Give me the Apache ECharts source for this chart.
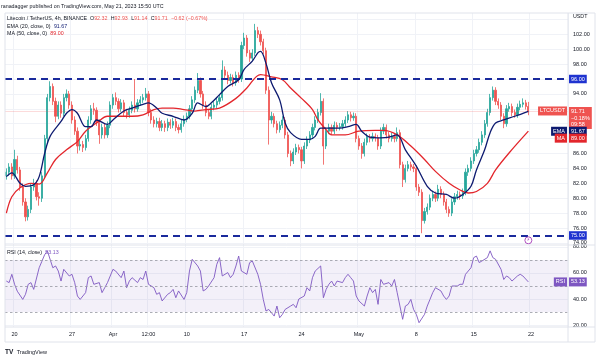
<!DOCTYPE html>
<html><head><meta charset="utf-8">
<script src="https://cdn.jsdelivr.net/npm/echarts@6/dist/echarts.min.js"></script>
<style>html,body{margin:0;padding:0;background:#fff}#c{width:600px;height:358px}</style>
</head><body><div id="c"></div>
<script>
// ---- data (8h candles) ----
const opens = [83.0,83.5,84.2,83.0,85.2,83.8,81.5,79.5,77.5,78.5,
81.5,82.0,80.2,80.0,83.0,88.0,93.5,95.0,93.0,91.0,
92.5,91.4,93.5,94.0,92.5,90.5,89.0,87.0,87.2,86.8,
88.0,90.5,92.0,91.8,90.2,88.5,89.5,88.5,89.8,92.5,
93.5,93.0,92.0,92.8,91.5,91.2,91.8,92.5,92.0,92.8,
93.2,93.5,94.0,91.5,90.5,90.0,90.3,89.5,90.0,89.5,
90.2,89.8,90.3,89.5,89.2,90.0,90.6,91.0,92.0,93.2,
94.5,95.8,94.0,92.5,91.5,91.0,92.2,92.5,93.0,93.5,
97.2,96.5,95.8,96.2,95.5,96.5,96.0,100.5,101.5,99.5,
98.8,99.5,102.5,102.0,101.0,99.8,94.5,90.5,91.0,90.0,
89.2,89.8,90.5,88.5,86.0,85.0,86.2,86.8,86.5,85.0,
87.0,87.8,88.5,89.5,90.5,91.5,93.0,87.0,89.0,89.5,
89.0,89.8,89.5,89.6,90.0,90.5,91.2,90.8,91.0,88.0,
87.0,86.0,87.5,88.2,88.0,88.3,88.1,87.0,89.0,89.5,
88.5,88.0,88.3,88.0,88.8,84.5,82.5,84.0,84.5,84.2,
84.0,81.5,80.8,77.0,78.2,78.8,80.0,80.5,80.0,81.2,
80.5,79.5,78.5,78.0,79.5,80.2,80.5,80.3,80.8,83.5,
84.0,85.0,86.0,86.5,87.5,88.5,90.0,91.5,93.5,94.5,
93.0,92.5,91.0,90.0,92.0,92.3,91.5,91.2,92.2,92.6,
92.8,92.32];
const closes = [83.5,84.2,83.0,85.2,83.8,81.5,79.5,77.5,78.5,81.5,
82.0,80.2,80.0,83.0,88.0,93.5,95.0,93.0,91.0,92.5,
91.4,93.5,94.0,92.5,90.5,89.0,87.0,87.2,86.8,88.0,
90.5,92.0,91.8,90.2,88.5,89.5,88.5,89.8,92.5,93.5,
93.0,92.0,92.8,91.5,91.2,91.8,92.5,92.0,92.8,93.2,
93.5,94.0,91.5,90.5,90.0,90.3,89.5,90.0,89.5,90.2,
89.8,90.3,89.5,89.2,90.0,90.6,91.0,92.0,93.2,94.5,
95.8,94.0,92.5,91.5,91.0,92.2,92.5,93.0,93.5,97.2,
96.5,95.8,96.2,95.5,96.5,96.0,100.5,101.5,99.5,98.8,
99.5,102.5,102.0,101.0,99.8,94.5,90.5,91.0,90.0,89.2,
89.8,90.5,88.5,86.0,85.0,86.2,86.8,86.5,85.0,87.0,
87.8,88.5,89.5,90.5,91.5,93.0,87.0,89.0,89.5,89.0,
89.8,89.5,89.6,90.0,90.5,91.2,90.8,91.0,88.0,87.0,
86.0,87.5,88.2,88.0,88.3,88.1,87.0,89.0,89.5,88.5,
88.0,88.3,88.0,88.8,84.5,82.5,84.0,84.5,84.2,84.0,
81.5,80.8,77.0,78.2,78.8,80.0,80.5,80.0,81.2,80.5,
79.5,78.5,78.0,79.5,80.2,80.5,80.3,80.8,83.5,84.0,
85.0,86.0,86.5,87.5,88.5,90.0,91.5,93.5,94.5,93.0,
92.5,91.0,90.0,92.0,92.3,91.5,91.2,92.2,92.6,92.8,
92.32,91.71];
const highs = [84.0,84.7,84.7,86.5,85.7,84.2,82.0,80.0,79.0,82.0,
82.6,82.4,80.8,83.5,88.5,94.0,95.7,95.4,93.5,93.0,
93.0,94.0,94.6,94.4,93.0,91.0,89.5,87.8,87.7,88.5,
91.0,92.5,92.8,92.2,90.6,90.0,90.0,90.3,93.0,94.0,
94.2,93.4,93.3,93.2,92.0,92.3,93.0,96.0,93.3,93.7,
94.0,94.8,94.4,92.0,91.0,90.8,90.8,90.5,90.4,90.7,
90.6,90.8,90.7,89.9,90.5,91.1,91.5,92.5,93.7,95.0,
96.8,96.2,94.4,93.0,91.9,92.7,93.0,93.5,94.0,98.5,
97.7,97.0,96.7,96.6,97.0,96.9,101.0,102.2,101.9,99.9,
100.0,103.4,103.0,102.5,101.4,100.2,95.0,91.6,91.4,90.4,
90.3,91.0,90.9,88.9,86.4,86.7,87.3,87.2,86.9,87.5,
88.3,89.0,90.0,91.0,92.0,94.1,93.4,89.5,90.0,89.9,
90.3,90.2,90.1,90.5,91.0,91.7,91.6,91.5,91.4,88.4,
87.4,88.0,88.7,88.6,88.8,88.7,88.5,89.5,90.0,89.9,
88.9,88.8,88.7,89.5,89.2,84.9,84.5,85.0,84.9,84.6,
84.4,81.9,81.2,78.7,79.3,80.5,81.0,80.9,81.8,81.6,
80.9,79.9,78.9,80.0,80.7,81.0,80.9,81.3,84.0,84.5,
85.5,86.5,87.0,88.0,89.0,90.5,92.0,94.0,95.0,94.9,
93.4,92.9,91.4,92.5,92.8,92.7,91.9,92.7,93.1,93.4,
93.2,92.93];
const lows = [82.5,83.0,82.5,82.6,83.3,81.0,79.0,76.9,77.0,78.0,
81.0,79.7,79.0,79.5,82.6,87.5,93.0,92.5,90.2,90.6,
90.8,91.0,93.0,92.0,90.0,88.5,86.0,86.4,86.2,86.4,
87.6,90.0,91.2,89.7,87.3,88.0,88.0,88.1,89.4,92.0,
92.5,91.5,91.6,91.0,90.7,90.8,91.4,91.5,91.6,92.4,
92.8,93.1,91.0,90.0,89.5,89.5,89.0,89.0,88.9,89.0,
89.3,89.4,89.0,88.7,88.8,89.6,90.2,90.6,91.6,92.8,
94.1,93.5,92.0,91.0,90.6,90.6,91.8,92.1,92.6,93.1,
96.0,95.3,95.4,95.0,95.1,95.5,95.6,100.0,99.0,98.3,
98.4,99.1,101.5,100.5,99.3,94.0,87.2,90.0,89.5,88.7,
88.8,89.4,88.0,85.5,84.3,84.6,85.8,86.0,84.0,84.6,
86.6,87.4,88.1,89.1,90.1,91.1,84.5,86.6,88.6,88.5,
88.6,89.0,89.1,89.2,89.6,90.1,90.3,90.4,87.5,86.5,
85.3,85.6,87.1,87.5,87.6,87.6,86.5,86.6,88.6,88.0,
87.5,87.6,87.5,87.6,84.0,81.5,82.1,83.6,83.7,83.5,
81.0,80.3,75.3,76.6,77.8,78.4,79.6,79.5,79.6,80.0,
79.0,78.0,77.5,77.6,79.1,79.8,79.8,79.9,80.4,83.0,
83.6,84.6,85.6,86.1,87.1,88.1,89.6,91.1,93.1,92.5,
92.0,90.5,89.4,89.6,91.6,91.0,90.8,90.8,91.8,92.2,
91.9,91.14];
// EMA(20) and MA(50) traced as [candle index, value]
const ema20 = [[0,82.9],[2,83.4],[5,82.0],[7,81.6],[10,81.8],[12,82.9],[14,86.0],[16,88.3],[20,90.3],[22,91.4],[24,91.9],[26,91.4],[29,89.6],[31,89.6],[33,90.5],[37,89.9],[39,90.5],[43,91.7],[46,92.1],[50,92.6],[52,92.8],[55,92.1],[57,91.4],[61,91.0],[65,90.5],[68,91.4],[70,92.8],[73,92.3],[75,92.8],[78,93.9],[81,95.0],[85,95.9],[87,97.3],[90,98.4],[92,99.5],[93,99.7],[95,98.1],[97,95.5],[100,93.2],[102,90.1],[104,88.8],[108,87.9],[111,87.9],[113,88.3],[115,89.4],[118,89.4],[122,89.4],[125,89.6],[128,89.9],[130,89.0],[133,88.2],[137,88.1],[140,88.2],[143,88.5],[146,86.5],[150,84.3],[154,81.6],[157,80.7],[161,80.5],[164,80.0],[167,80.5],[170,81.6],[172,83.8],[175,86.5],[177,88.8],[179,90.1],[182,90.5],[186,91.0],[191,91.67]];
const ma50 = [[0,78.0],[2,80.2],[5,81.4],[9,82.0],[12,81.9],[15,83.4],[18,85.2],[22,86.5],[26,87.6],[29,89.0],[33,90.1],[37,91.0],[42,91.0],[46,91.0],[50,91.2],[54,91.9],[57,92.1],[61,92.1],[65,91.9],[69,91.7],[73,91.9],[78,92.1],[84,93.4],[88,94.8],[93,96.6],[97,96.3],[101,95.9],[104,94.8],[108,93.4],[112,91.9],[114,90.5],[117,89.2],[119,88.5],[124,88.5],[129,89.0],[135,89.1],[138,89.1],[143,88.5],[148,87.0],[153,85.2],[157,83.6],[162,82.0],[166,81.1],[169,80.7],[172,80.9],[176,82.0],[179,83.8],[184,86.1],[191,89.0]];
const rsi14 = [[0,53.8],[1,52.6],[2,59],[3,51.3],[4,46],[6,39.7],[7,43.6],[8,51.3],[9,52.6],[10,47.4],[12,64],[13,69],[14,74],[15,77],[17,64],[18,65.4],[19,61.5],[20,53.8],[21,62.8],[23,57.7],[24,59],[25,52.6],[26,42.3],[27,39.7],[29,44.9],[30,56.4],[31,57.7],[32,51.3],[34,52.6],[35,44.9],[36,48.7],[37,52.6],[39,62.8],[40,61.5],[42,56.4],[43,61.5],[44,48.7],[45,53.8],[46,56.4],[48,52.6],[49,56.4],[50,55],[51,61.5],[52,51.3],[54,48.7],[55,43.6],[56,44.9],[57,38.5],[59,43.6],[60,44.9],[61,47.4],[62,41],[63,46.2],[65,39.7],[66,44.9],[67,61.5],[68,70.5],[70,65.4],[71,61.5],[72,46.2],[73,47.4],[74,50],[76,56.4],[77,66.7],[78,71.8],[79,57.7],[81,60.3],[82,56.4],[83,59],[84,65.4],[85,73],[86,61.5],[88,59],[89,67.9],[90,69.2],[92,59],[93,51.3],[94,39.7],[95,30.8],[96,32],[98,26.9],[99,34.6],[100,25.6],[101,28.2],[102,32],[104,34.6],[105,35.9],[106,33.3],[107,40],[109,42.3],[110,48.7],[111,46.2],[112,56.4],[113,61.5],[115,65.4],[116,41],[117,47.4],[118,51.3],[119,53.8],[120,50],[121,53.8],[123,52.6],[124,56.4],[125,59],[126,56.4],[127,53.8],[128,42.3],[129,38.5],[131,34.6],[132,42.3],[133,48.7],[134,44.9],[135,47.4],[136,35.9],[137,55],[138,51.3],[140,52.6],[141,50],[142,55],[143,44.9],[145,24.4],[146,34.6],[147,35.9],[148,39.7],[149,32],[150,28.2],[151,21.8],[153,28.2],[154,34.6],[155,39.7],[156,44.9],[157,48.7],[159,46.2],[160,42.3],[161,39.7],[162,42.3],[163,50],[165,50],[166,51.3],[167,51.3],[168,59],[170,64],[171,71.8],[172,73],[173,68],[174,69.2],[176,71.8],[177,77],[178,71.8],[179,70.5],[181,62.8],[182,55],[183,57.7],[184,56.4],[185,53.8],[187,57.7],[188,59],[189,57.7],[191,53.13]];
const levels = [96, 75];
const priceTicks = [74,76,78,80,82,84,86,88,90,92,94,96,98,100,102,104];
const priceLabels = [74,76,78,80,82,84,86,94,98,100,102];
const rsiTicks = [20,40,60,80];
const rsiBand = [30, 70];
const rsiMid = 50;
const tickLabels = [['2023-03-20 00h','20'],['2023-03-27 00h','27'],['2023-04-01 00h','Apr'],['2023-04-05 08h','12:00'],['2023-04-10 00h','10'],['2023-04-17 00h','17'],['2023-04-24 00h','24'],['2023-05-01 00h','May'],['2023-05-08 00h','8'],['2023-05-15 00h','15'],['2023-05-22 00h','22']];
const headerChange = '\u22120.62 (\u22120.67%)';
const lastChange = '\u22120.18%';
const countdown = '09:58';

// ---- time categories (8h slots, with empty slots to the right) ----
const SLOT = 8 * 3600 * 1000, START = Date.UTC(2023, 2, 19, 0), TOTAL = 206;
const pad = n => String(n).padStart(2, '0');
const categories = [];
for (let i = 0; i < TOTAL; i++) {
  const d = new Date(START + i * SLOT);
  categories.push(d.getUTCFullYear() + '-' + pad(d.getUTCMonth() + 1) + '-' + pad(d.getUTCDate()) + ' ' + pad(d.getUTCHours()) + 'h');
}
const tickMap = new Map(tickLabels);
const candles = closes.map((c, i) => [opens[i], c, lows[i], highs[i]]);
const last = closes.length - 1;

const FONT = 'Liberation Sans, Arial, sans-serif';
const TXT = '#131722', GRIDC = '#f0f2f7', BORDER = '#e0e3eb';
const UP = '#26a69a', DOWN = '#ef5350';
const EMAC = '#0d1a70', MAC = '#e3262c', RSIC = '#7e57c2', LVL = '#1a2a9c', LVLBOX = '#1f33d0';
const GL = 5, GR = 32, PT = 13, PH = 232, RT = 245, RH = 82;

const chart = echarts.init(document.getElementById('c'), null, {renderer: 'canvas'});
const xBase = {
  type: 'category', data: categories, boundaryGap: true,
  axisLine: {show: false}, axisTick: {show: false},
  splitLine: {show: true, interval: (i, v) => tickMap.has(v), lineStyle: {color: GRIDC, width: 1}}
};
const option = {
  animation: false,
  backgroundColor: '#fff',
  grid: [
    {left: GL, right: GR, top: PT, height: PH},
    {left: GL, right: GR, top: RT, height: RH}
  ],
  xAxis: [
    Object.assign({}, xBase, {gridIndex: 0, axisLabel: {show: false}}),
    Object.assign({}, xBase, {gridIndex: 1, axisLabel: {show: true, interval: (i, v) => tickMap.has(v), formatter: v => tickMap.get(v) || '', color: TXT, fontSize: 5.5, fontFamily: FONT, margin: 4}})
  ],
  yAxis: [
    {gridIndex: 0, type: 'value', position: 'right', min: 73.72, max: 104.86, scale: true,
      axisLine: {show: false}, axisTick: {show: false, customValues: priceTicks},
      axisLabel: {customValues: priceLabels, formatter: v => v.toFixed(2), color: TXT, fontSize: 5.5, fontFamily: FONT, margin: 5, align: 'left'},
      splitLine: {show: true, lineStyle: {color: GRIDC}}},
    {gridIndex: 1, type: 'value', position: 'right', min: 18.5, max: 81.5,
      axisLine: {show: false}, axisTick: {show: false, customValues: rsiTicks},
      axisLabel: {customValues: rsiTicks, formatter: v => v.toFixed(2), color: TXT, fontSize: 5.5, fontFamily: FONT, margin: 5, align: 'left'},
      splitLine: {show: true, lineStyle: {color: GRIDC}}}
  ],
  series: [
    {type: 'candlestick', name: 'LTCUSDT', xAxisIndex: 0, yAxisIndex: 0, data: candles, barWidth: '62%',
      itemStyle: {color: UP, color0: DOWN, borderColor: UP, borderColor0: DOWN, borderWidth: 0.8},
      markLine: {silent: true, symbol: 'none', animation: false,
        data: [
          ...levels.map(v => ({yAxis: v, lineStyle: {color: LVL, type: [7, 5], width: 1.8},
            label: {show: true, position: 'end', distance: 1, formatter: v.toFixed(2), color: '#fff', backgroundColor: LVLBOX, padding: [1.5, 2, 1, 2], fontSize: 5.5, fontFamily: FONT}})),
          {yAxis: closes[last], lineStyle: {color: DOWN, type: 'solid', width: 0.6, opacity: 0.35}, label: {show: false}}
        ]},
      markPoint: {silent: true, animation: false, data: [{coord: [last, 74.35], symbol: 'circle', symbolSize: 7,
        itemStyle: {color: '#fff', borderColor: '#9c27b0', borderWidth: 0.8},
        label: {show: true, formatter: '\u26A1', color: '#9c27b0', fontSize: 4.5, fontFamily: 'DejaVu Sans'}}]}
    },
    {type: 'line', name: 'EMA', xAxisIndex: 0, yAxisIndex: 0, data: ema20, smooth: 0.35, symbol: 'none', lineStyle: {color: EMAC, width: 1.3}, z: 5},
    {type: 'line', name: 'MA', xAxisIndex: 0, yAxisIndex: 0, data: ma50, smooth: 0.35, symbol: 'none', lineStyle: {color: MAC, width: 1.3}, z: 4},
    {type: 'line', name: 'RSI', xAxisIndex: 1, yAxisIndex: 1, data: rsi14, symbol: 'none', lineStyle: {color: RSIC, width: 0.9},
      markArea: {silent: true, itemStyle: {color: 'rgba(126,87,194,0.09)'}, data: [[{yAxis: rsiBand[0]}, {yAxis: rsiBand[1]}]]},
      markLine: {silent: true, symbol: 'none', label: {show: false}, lineStyle: {color: '#9598a1', type: [2.5, 2.5], width: 0.8},
        data: [{yAxis: rsiBand[1]}, {yAxis: rsiMid}, {yAxis: rsiBand[0]}]}}
  ]
};
chart.setOption(option);

// ---- text, frame and price-scale tags ----
const yP = v => chart.convertToPixel({yAxisIndex: 0}, v);
const yR = v => chart.convertToPixel({yAxisIndex: 1}, v);
const AX = 600 - GR;
const f = s => s + 'px ' + FONT;
function tag(x, y, text, bg, align, vAlign) {
  return {type: 'text', x: x, y: y, z: 200, silent: true,
    style: {text: text, fill: '#fff', backgroundColor: bg, padding: [1.5, 2, 1, 2], font: f(5.5), align: align || 'left', verticalAlign: vAlign || 'middle', lineHeight: 6.5}};
}
const lastEma = ema20[ema20.length - 1][1], lastMa = ma50[ma50.length - 1][1], lastRsi = rsi14[rsi14.length - 1][1];
const yLast = yP(closes[last]);
const graphics = [
  {type: 'rect', z: 150, silent: true, shape: {x: GL, y: PT, width: 600 - GL - 5, height: 329}, style: {fill: 'none', stroke: BORDER, lineWidth: 1}},
  {type: 'line', z: 150, silent: true, shape: {x1: GL, y1: RT, x2: 595, y2: RT}, style: {stroke: BORDER, lineWidth: 1}},
  {type: 'line', z: 150, silent: true, shape: {x1: GL, y1: RT + RH, x2: 595, y2: RT + RH}, style: {stroke: BORDER, lineWidth: 1}},
  {type: 'line', z: 150, silent: true, shape: {x1: AX, y1: PT, x2: AX, y2: 342}, style: {stroke: BORDER, lineWidth: 1}},
  {type: 'text', x: 1, y: 6.5, z: 200, style: {text: 'ranadagger published on TradingView.com, May 21, 2023 15:50 UTC', fill: TXT, font: f(5.3), verticalAlign: 'middle'}},
  {type: 'text', x: 7, y: 19, z: 200, style: {
    text: '{t|Litecoin / TetherUS, 4h, BINANCE  }{t|O}{r|' + opens[last].toFixed(2) + '} {t|H}{r|' + highs[last].toFixed(2) + '} {t|L}{r|' + lows[last].toFixed(2) + '} {t|C}{r|' + closes[last].toFixed(2) + '} {r|' + headerChange + '}',
    verticalAlign: 'middle', rich: {t: {fill: TXT, font: f(5.3)}, r: {fill: DOWN, font: f(5.3)}}}},
  {type: 'text', x: 7, y: 26.5, z: 200, style: {text: '{t|EMA (20, close, 0)} {b|' + lastEma.toFixed(2) + '}', verticalAlign: 'middle', rich: {t: {fill: TXT, font: f(5.3)}, b: {fill: EMAC, font: f(5.3)}}}},
  {type: 'text', x: 7, y: 33.5, z: 200, style: {text: '{t|MA (50, close, 0)} {b|' + lastMa.toFixed(2) + '}', verticalAlign: 'middle', rich: {t: {fill: TXT, font: f(5.3)}, b: {fill: MAC, font: f(5.3)}}}},
  {type: 'text', x: 7, y: 252.5, z: 200, style: {text: '{t|RSI (14, close)} {b|' + lastRsi.toFixed(2) + '}', verticalAlign: 'middle', rich: {t: {fill: TXT, font: f(5.3)}, b: {fill: RSIC, font: f(5.3)}}}},
  {type: 'text', x: AX + 5, y: 17, z: 200, style: {text: 'USDT', fill: TXT, font: f(5.3), verticalAlign: 'middle'}},
  {type: 'text', x: 5, y: 352, z: 200, style: {text: '{b|TV} {t|TradingView}', verticalAlign: 'middle', rich: {b: {fill: TXT, font: 'bold ' + f(6.5)}, t: {fill: TXT, font: f(5.5)}}}},
  // last price tags
  tag(AX - 1, yLast, 'LTCUSDT', DOWN, 'right'),
  tag(AX + 1, yLast - 4, closes[last].toFixed(2) + '\n' + lastChange + '\n' + countdown, DOWN, 'left', 'top'),
  tag(AX - 1, yP(lastEma) + 20, 'EMA', EMAC, 'right'),
  tag(AX + 1, yP(lastEma) + 20, lastEma.toFixed(2), EMAC, 'left'),
  tag(AX - 1, yP(lastMa) + 7, 'MA', MAC, 'right'),
  tag(AX + 1, yP(lastMa) + 7, lastMa.toFixed(2), MAC, 'left'),
  tag(AX - 1, yR(lastRsi), 'RSI', RSIC, 'right'),
  tag(AX + 1, yR(lastRsi), lastRsi.toFixed(2), RSIC, 'left')
];
chart.setOption({graphic: graphics});
</script>
</body></html>
